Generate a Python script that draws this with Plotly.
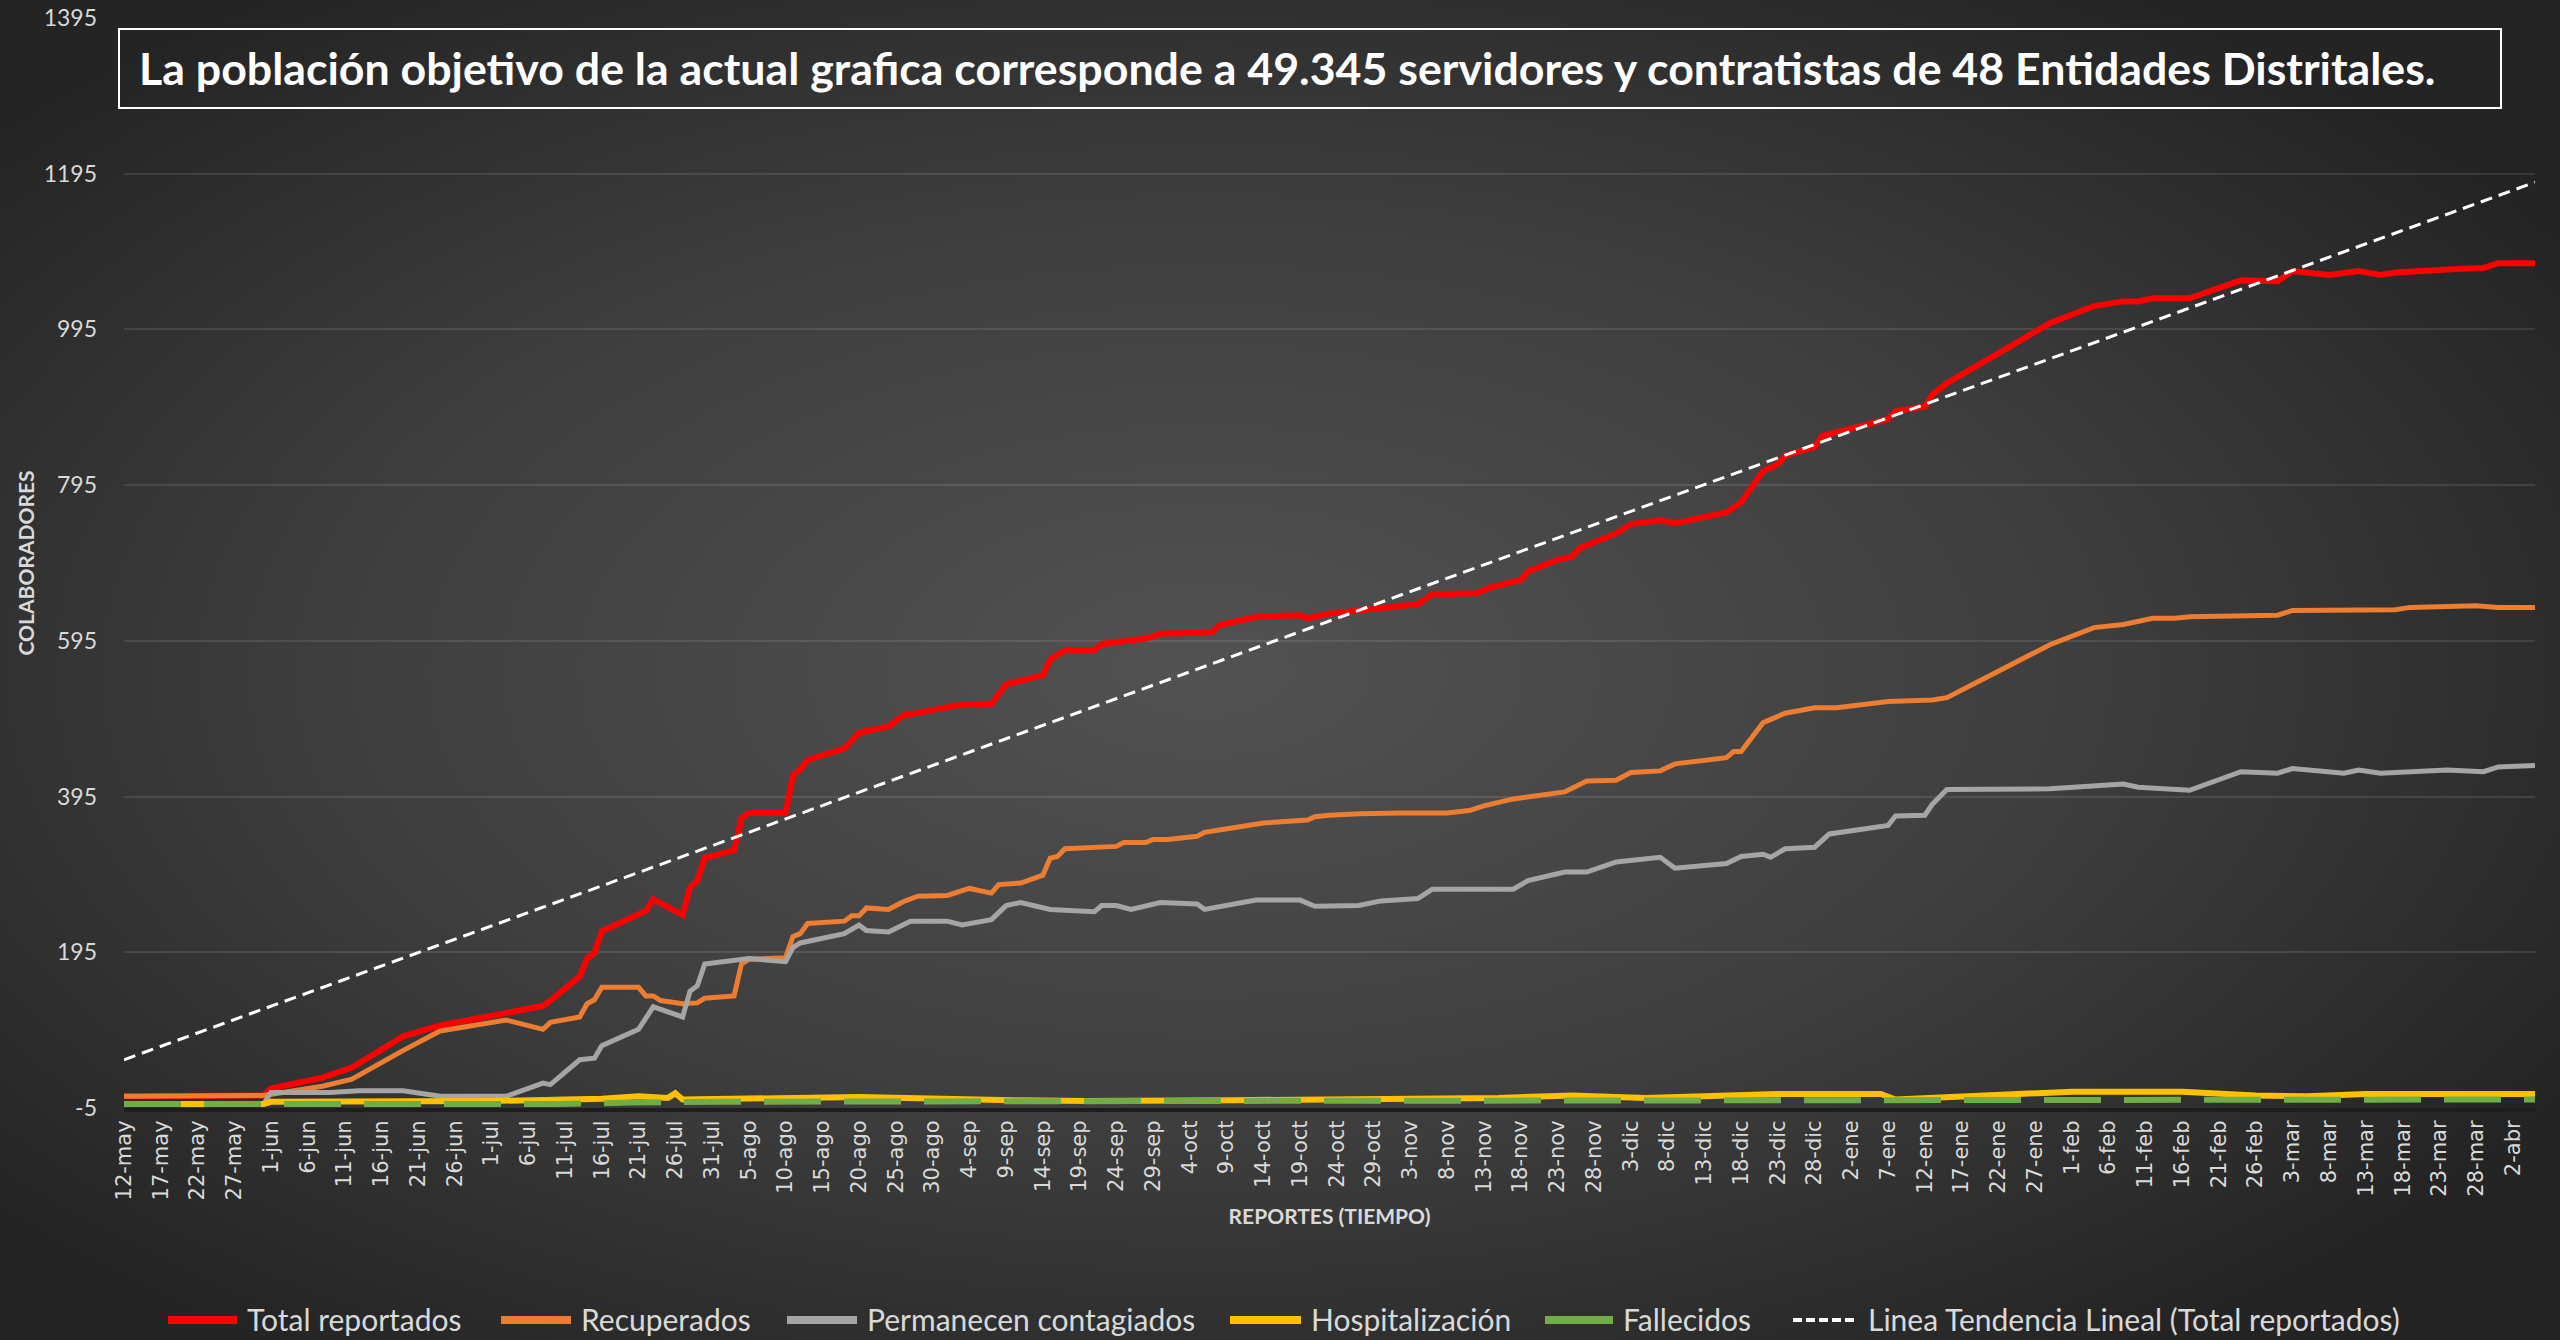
import base64
import pandas as pd
import plotly.graph_objects as go

# ---------------- data ----------------
total_dates = ["2020-05-12", "2020-05-31", "2020-06-01", "2020-06-08", "2020-06-12", "2020-06-19", "2020-06-24",
               "2020-07-08", "2020-07-09", "2020-07-13", "2020-07-14", "2020-07-15", "2020-07-16", "2020-07-22",
               "2020-07-23", "2020-07-27", "2020-07-28", "2020-07-29", "2020-07-30", "2020-08-03", "2020-08-04",
               "2020-08-05", "2020-08-10", "2020-08-11", "2020-08-12", "2020-08-13", "2020-08-18", "2020-08-20",
               "2020-08-24", "2020-08-26", "2020-08-31", "2020-09-02", "2020-09-07", "2020-09-09", "2020-09-14",
               "2020-09-15", "2020-09-17", "2020-09-21", "2020-09-22", "2020-09-28", "2020-09-30", "2020-10-07",
               "2020-10-08", "2020-10-13", "2020-10-19", "2020-10-20", "2020-10-23", "2020-10-29", "2020-11-02",
               "2020-11-04", "2020-11-06", "2020-11-12", "2020-11-14", "2020-11-18", "2020-11-19", "2020-11-23",
               "2020-11-25", "2020-11-26", "2020-12-01", "2020-12-03", "2020-12-07", "2020-12-09", "2020-12-16",
               "2020-12-18", "2020-12-21", "2020-12-23", "2020-12-24", "2020-12-28", "2020-12-29", "2021-01-07",
               "2021-01-08", "2021-01-12", "2021-01-13", "2021-01-15", "2021-01-29", "2021-02-04", "2021-02-08",
               "2021-02-10", "2021-02-12", "2021-02-17", "2021-02-24", "2021-03-01", "2021-03-03", "2021-03-08",
               "2021-03-12", "2021-03-15", "2021-03-17", "2021-03-26", "2021-03-29", "2021-03-31", "2021-04-05"]
total_vals = [10, 11, 20, 34, 47, 87, 101,
              126, 133, 164, 187, 194, 222, 248,
              263, 243, 278, 287, 316, 326, 367,
              374, 374, 422, 430, 442, 457, 477,
              485, 499, 508, 512, 514, 539, 551,
              571, 583, 583, 591, 598, 604, 606,
              615, 626, 628, 624, 630, 635, 640,
              642, 655, 656, 664, 673, 684, 699,
              703, 714, 733, 745, 750, 746, 760,
              773, 813, 822, 833, 844, 858, 880,
              890, 896, 911, 926, 1003, 1025, 1031,
              1031, 1035, 1035, 1058, 1057, 1070, 1065,
              1070, 1065, 1068, 1073, 1074, 1080, 1080]

recup_dates = ["2020-05-12", "2020-05-31", "2020-06-08", "2020-06-12", "2020-06-19", "2020-06-24", "2020-07-03",
               "2020-07-08", "2020-07-09", "2020-07-13", "2020-07-14", "2020-07-15", "2020-07-16", "2020-07-21",
               "2020-07-22", "2020-07-23", "2020-07-24", "2020-07-27", "2020-07-29", "2020-07-30", "2020-08-03",
               "2020-08-04", "2020-08-05", "2020-08-10", "2020-08-11", "2020-08-12", "2020-08-13", "2020-08-18",
               "2020-08-19", "2020-08-20", "2020-08-21", "2020-08-24", "2020-08-26", "2020-08-28", "2020-09-01",
               "2020-09-04", "2020-09-07", "2020-09-08", "2020-09-11", "2020-09-14", "2020-09-15", "2020-09-16",
               "2020-09-17", "2020-09-24", "2020-09-25", "2020-09-28", "2020-09-29", "2020-10-01", "2020-10-05",
               "2020-10-06", "2020-10-08", "2020-10-14", "2020-10-20", "2020-10-21", "2020-10-23", "2020-10-27",
               "2020-11-02", "2020-11-08", "2020-11-11", "2020-11-13", "2020-11-17", "2020-11-24", "2020-11-27",
               "2020-12-01", "2020-12-03", "2020-12-07", "2020-12-09", "2020-12-16", "2020-12-17", "2020-12-18",
               "2020-12-21", "2020-12-23", "2020-12-24", "2020-12-28", "2020-12-31", "2021-01-07", "2021-01-13",
               "2021-01-15", "2021-01-29", "2021-02-04", "2021-02-08", "2021-02-12", "2021-02-15", "2021-02-17",
               "2021-03-01", "2021-03-03", "2021-03-17", "2021-03-19", "2021-03-28", "2021-03-31", "2021-04-05"]
recup_vals = [10, 11, 23, 32, 69, 94, 108,
              96, 105, 112, 129, 134, 150, 150,
              139, 139, 133, 129, 130, 136, 139,
              180, 186, 188, 215, 219, 232, 235,
              242, 242, 252, 250, 260, 267, 268,
              277, 271, 282, 284, 294, 316, 318,
              328, 331, 336, 336, 340, 340, 344,
              349, 352, 361, 365, 369, 371, 373,
              374, 374, 377, 383, 392, 401, 415,
              416, 426, 428, 437, 445, 453, 453,
              490, 498, 502, 509, 509, 517, 519,
              522, 590, 612, 616, 624, 624, 626,
              628, 634, 635, 638, 640, 638, 638]

activos_dates = ["2020-05-12", "2020-05-31", "2020-06-01", "2020-06-09", "2020-06-13", "2020-06-19", "2020-06-24",
                 "2020-07-03", "2020-07-08", "2020-07-09", "2020-07-13", "2020-07-15", "2020-07-16", "2020-07-21",
                 "2020-07-23", "2020-07-27", "2020-07-28", "2020-07-29", "2020-07-30", "2020-08-05", "2020-08-10",
                 "2020-08-11", "2020-08-12", "2020-08-18", "2020-08-20", "2020-08-21", "2020-08-24", "2020-08-27",
                 "2020-09-01", "2020-09-03", "2020-09-07", "2020-09-09", "2020-09-11", "2020-09-15", "2020-09-21",
                 "2020-09-22", "2020-09-24", "2020-09-26", "2020-09-30", "2020-10-05", "2020-10-06", "2020-10-09",
                 "2020-10-13", "2020-10-19", "2020-10-21", "2020-10-27", "2020-10-30", "2020-11-04", "2020-11-06",
                 "2020-11-17", "2020-11-19", "2020-11-24", "2020-11-27", "2020-12-01", "2020-12-07", "2020-12-09",
                 "2020-12-16", "2020-12-18", "2020-12-21", "2020-12-22", "2020-12-24", "2020-12-28", "2020-12-30",
                 "2021-01-07", "2021-01-08", "2021-01-12", "2021-01-13", "2021-01-15", "2021-01-29", "2021-02-08",
                 "2021-02-10", "2021-02-17", "2021-02-24", "2021-03-01", "2021-03-03", "2021-03-10", "2021-03-12",
                 "2021-03-15", "2021-03-24", "2021-03-29", "2021-03-31", "2021-04-05"]
activos_vals = [0, 0, 15, 15, 17, 17, 10,
                10, 27, 25, 57, 59, 75, 96,
                125, 112, 145, 152, 180, 187, 183,
                201, 207, 219, 230, 223, 221, 235,
                235, 230, 237, 255, 259, 250, 247,
                255, 255, 250, 259, 257, 250, 255,
                262, 262, 254, 255, 261, 264, 276,
                276, 287, 298, 298, 311, 317, 303,
                309, 318, 321, 317, 328, 330, 347,
                358, 370, 371, 385, 404, 405, 411,
                407, 403, 427, 425, 431, 425, 429,
                425, 429, 427, 433, 435]

hosp_dates = ["2020-05-12", "2020-05-31", "2020-06-01", "2020-07-01", "2020-07-16", "2020-07-21", "2020-07-25",
              "2020-07-26", "2020-07-27", "2020-08-20", "2020-09-10", "2020-09-20", "2020-10-10", "2020-11-15",
              "2020-11-25", "2020-12-05", "2020-12-23", "2021-01-06", "2021-01-08", "2021-01-25", "2021-02-01",
              "2021-02-16", "2021-02-26", "2021-03-05", "2021-03-13", "2021-04-05"]
hosp_vals = [0, 0, 3, 4, 7, 10, 8,
             14, 6, 9, 5, 4, 5, 8,
             11, 8, 13, 13, 6, 14, 16,
             16, 11, 10, 13, 13]

fallec_dates = ["2020-05-12", "2020-07-10", "2020-07-20", "2020-08-01", "2020-10-01", "2020-12-01",
                "2021-01-10", "2021-03-01", "2021-04-05"]
fallec_vals = [0, 0, 2, 3, 4, 5, 5, 6, 6]

# linear trend of "Total reportados" (end points)
trend_dates = ["2020-05-12", "2021-04-05"]
trend_vals = [57, 1184]

series_names = ["Total reportados", "Recuperados", "Permanecen contagiados", "Hospitalización",
                "Fallecidos", "Linea Tendencia Lineal (Total reportados)"]

tick_labels = ["12-may", "17-may", "22-may", "27-may", "1-jun", "6-jun", "11-jun", "16-jun", "21-jun", "26-jun",
               "1-jul", "6-jul", "11-jul", "16-jul", "21-jul", "26-jul", "31-jul", "5-ago", "10-ago", "15-ago",
               "20-ago", "25-ago", "30-ago", "4-sep", "9-sep", "14-sep", "19-sep", "24-sep", "29-sep", "4-oct",
               "9-oct", "14-oct", "19-oct", "24-oct", "29-oct", "3-nov", "8-nov", "13-nov", "18-nov", "23-nov",
               "28-nov", "3-dic", "8-dic", "13-dic", "18-dic", "23-dic", "28-dic", "2-ene", "7-ene", "12-ene",
               "17-ene", "22-ene", "27-ene", "1-feb", "6-feb", "11-feb", "16-feb", "21-feb", "26-feb", "3-mar",
               "8-mar", "13-mar", "18-mar", "23-mar", "28-mar", "2-abr"]
tick_dates = pd.date_range("2020-05-12", periods=len(tick_labels), freq="5D")

y_ticks = [-5, 195, 395, 595, 795, 995, 1195, 1395]
y_tick_labels = ["-5", "195", "395", "595", "795", "995", "1195", "1395"]

title_text = ("La población objetivo de la actual grafica corresponde a 49.345 servidores "
              "y contratistas de 48 Entidades Distritales.")

# ---------------- figure ----------------
W, H = 2560, 1340
ML, MR, MT, MB = 124, 25, 18, 232
PW, PH = W - ML - MR, H - MT - MB


def px_x(px):
    return (px - ML) / PW


def px_y(py):
    return (H - MB - py) / PH


styles = [
    dict(color="#FF0000", width=6),
    dict(color="#ED7D31", width=5),
    dict(color="#A5A5A5", width=5),
    dict(color="#FFC000", width=6),
    dict(color="#70AD47", width=6, dash="57px,23px"),
    dict(color="#FFFFFF", width=3, dash="12px,7px"),
]
xs_all = [total_dates, recup_dates, activos_dates, hosp_dates, fallec_dates, trend_dates]
ys_all = [total_vals, recup_vals, activos_vals, hosp_vals, fallec_vals, trend_vals]

fig = go.Figure()
for name, xs, ys, line in zip(series_names, xs_all, ys_all, styles):
    fig.add_trace(go.Scatter(x=xs, y=ys, name=name, mode="lines", line=line, showlegend=False))

# legend drawn as symbol + label (matches the long Excel legend keys)
legend_sym = [(168, 237), (501, 571), (787, 857), (1230, 1301), (1545, 1613), (1793, 1858)]
legend_sym_style = [
    dict(color="#FF0000", width=8),
    dict(color="#ED7D31", width=8),
    dict(color="#A5A5A5", width=8),
    dict(color="#FFC000", width=8),
    dict(color="#70AD47", width=8),
    dict(color="#FFFFFF", width=4, dash="9px,4px"),
]
LEG_Y = 1319
for (x0, x1), st, name in zip(legend_sym, legend_sym_style, series_names):
    fig.add_shape(type="line", xref="paper", yref="paper", x0=px_x(x0), x1=px_x(x1),
                  y0=px_y(LEG_Y + 1), y1=px_y(LEG_Y + 1), line=st)
    fig.add_annotation(text=name, xref="paper", yref="paper", x=px_x(x1 + 8), y=px_y(LEG_Y),
                       xanchor="left", yanchor="middle", showarrow=False,
                       font=dict(family="Lato", size=30, color="#D9D9D9"))

# radial gradient background (SVG data URI)
svg = ('<svg xmlns="http://www.w3.org/2000/svg" width="2560" height="1340" viewBox="0 0 2560 1340" '
       'preserveAspectRatio="none"><defs><radialGradient id="g" cx="0.47" cy="0.5" r="0.62" '
       'gradientUnits="objectBoundingBox"><stop offset="0" stop-color="#525252"/>'
       '<stop offset="0.55" stop-color="#3e3e3e"/><stop offset="1" stop-color="#242424"/>'
       '</radialGradient></defs><rect width="2560" height="1340" fill="url(#g)"/></svg>')
bg_uri = "data:image/svg+xml;base64," + base64.b64encode(svg.encode()).decode()

fig.add_layout_image(dict(source=bg_uri, xref="paper", yref="paper",
                          x=-ML / PW, y=1 + MT / PH, sizex=W / PW, sizey=H / PH,
                          xanchor="left", yanchor="top", sizing="stretch", layer="below"))

# title box
fig.add_shape(type="rect", xref="paper", yref="paper",
              x0=px_x(119), x1=px_x(2501), y0=px_y(108), y1=px_y(29),
              line=dict(color="#FFFFFF", width=2), fillcolor="rgba(0,0,0,0)", layer="above")
fig.add_annotation(text="<b>" + title_text + "</b>", xref="paper", yref="paper",
                   x=px_x(137), y=px_y(68), xanchor="left", yanchor="middle",
                   showarrow=False, font=dict(family="Lato", size=44.7, color="#FFFFFF"))

fig.update_layout(
    width=W, height=H,
    margin=dict(l=ML, r=MR, t=MT, b=MB, autoexpand=False),
    paper_bgcolor="#333333",
    plot_bgcolor="rgba(0,0,0,0)",
    showlegend=False,
    xaxis=dict(type="date", range=["2020-05-12", "2021-04-05"],
               tickmode="array", tickvals=tick_dates, ticktext=tick_labels, tickangle=-90,
               tickfont=dict(family="DejaVu Sans", size=21, color="#D9D9D9"),
               showgrid=False, showline=True, linecolor="#1E1E1E", linewidth=4, ticks="",
               automargin=True,
               title=dict(text="<b>REPORTES (TIEMPO)</b>", font=dict(family="Lato", size=21, color="#D9D9D9"),
                          standoff=11),
               zeroline=False),
    yaxis=dict(range=[-5, 1395], tickmode="array", tickvals=y_ticks, ticktext=y_tick_labels,
               tickfont=dict(family="Lato", size=23, color="#D9D9D9"),
               showgrid=True, gridcolor="rgba(255,255,255,0.10)", gridwidth=2, zeroline=False,
               ticks="", ticklabelstandoff=26, automargin=True,
               title=dict(text="<b>COLABORADORES</b>", font=dict(family="Lato", size=21, color="#D9D9D9"),
                          standoff=3)),
)

fig.write_html("out.html", config={"displayModeBar": False},
               post_script="document.body.style.margin='0';document.body.style.background='#2a2a2a';")
